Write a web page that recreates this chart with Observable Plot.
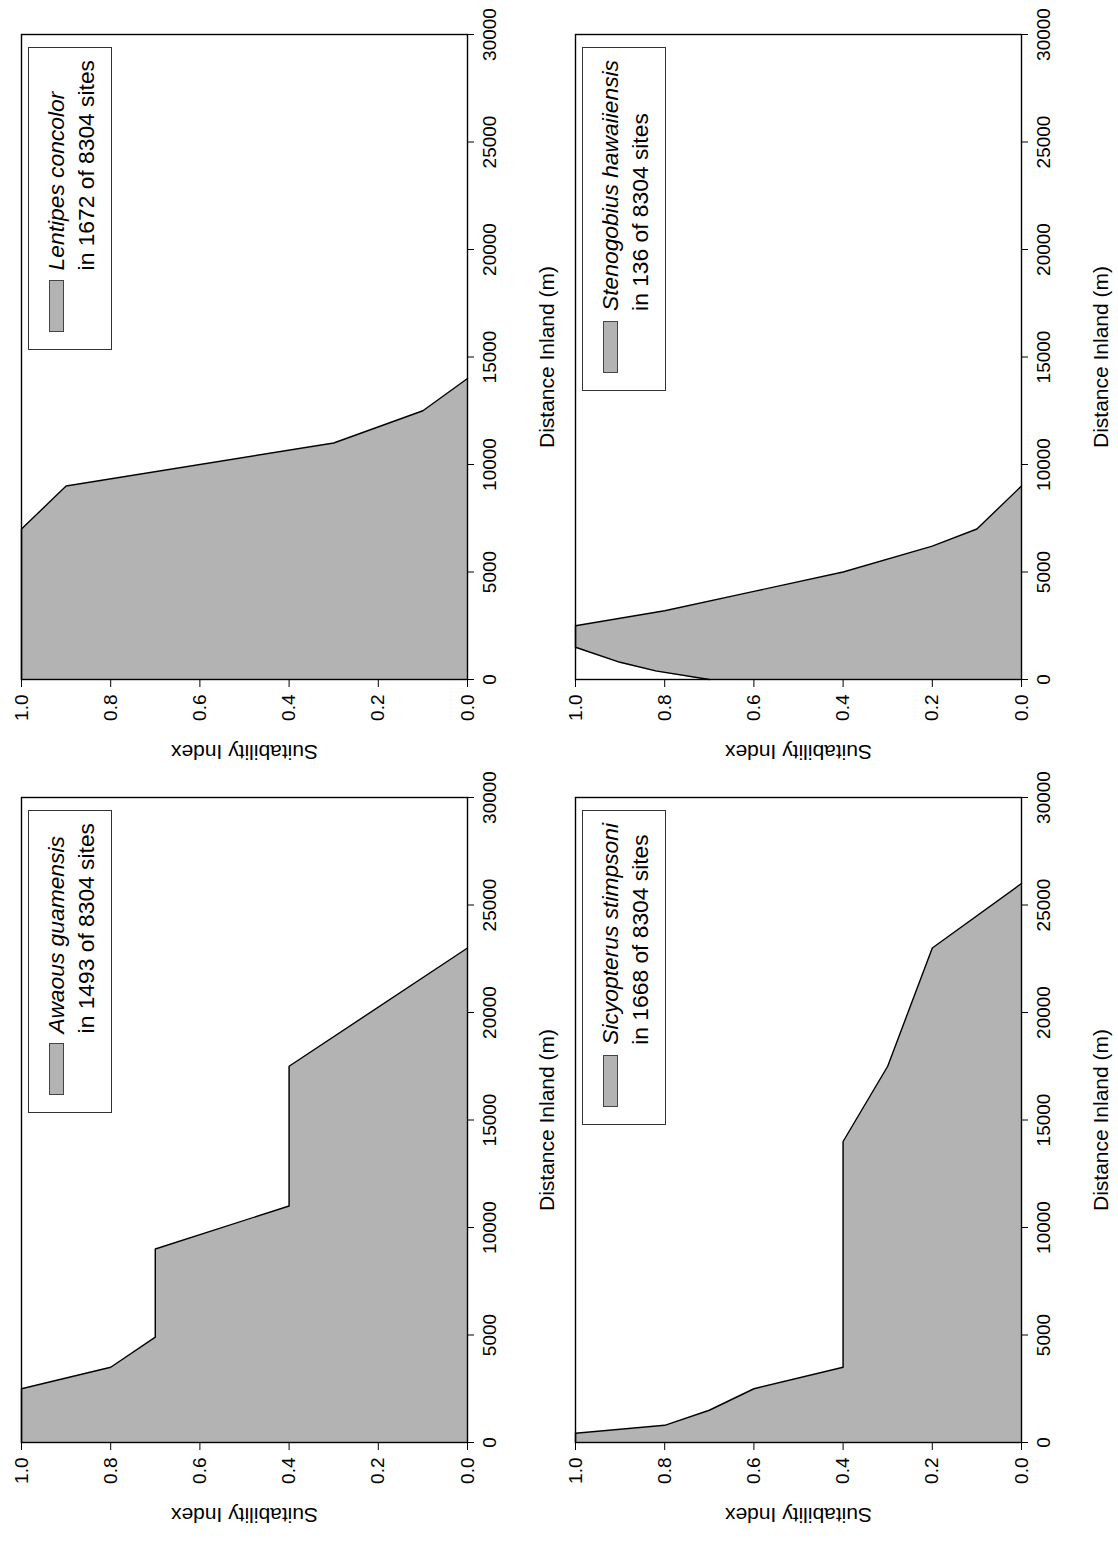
<!DOCTYPE html>
<html>
<head>
<meta charset="utf-8">
<script src="https://cdn.jsdelivr.net/npm/d3@7"></script>
<script src="https://cdn.jsdelivr.net/npm/@observablehq/plot@0.6"></script>
<style>
  html, body { margin: 0; padding: 0; background: #fff; width: 1118px; height: 1543px; overflow: hidden; }
  #page {
    position: absolute; left: 0; top: 0; width: 1543px; height: 1118px;
    transform-origin: 0 0; transform: translate(0px, 1543px) rotate(-90deg);
    font-family: "Liberation Sans", Arial, Helvetica, sans-serif; color: #000; background: #fff;
  }
  .panel { position: absolute; }
  .panel svg { overflow: visible; }
  #page g[aria-label="x-axis label"] text, #page g[aria-label="y-axis label"] text { font-size: 21px; }
  .legend {
    position: absolute; background: #fff; border: 1px solid #333; box-sizing: border-box;
    padding: 12px 12px 10px 17px; display: flex; align-items: flex-start;
    font-size: 22.8px; line-height: 30px; color: #000; white-space: nowrap;
  }
  .legend .swatch { width: 50px; height: 13px; background: #b3b3b3; border: 1px solid #444; margin-top: 8px; margin-right: 10px; flex: none; }
  .legend .name { font-style: italic; }
</style>
</head>
<body>
<div id="page"></div>
<script>
// ---- data ----
const species = ["Awaous guamensis", "Lentipes concolor", "Sicyopterus stimpsoni", "Stenogobius hawaiiensis"];
const siteCounts = [1493, 1672, 1668, 136];
const totalSites = 8304;

const awaousDistance = [0, 2500, 3500, 4900, 9000, 11000, 17500, 23000];
const awaousSuitability = [1.0, 1.0, 0.8, 0.7, 0.7, 0.4, 0.4, 0.0];

const lentipesDistance = [0, 7000, 9000, 11000, 12500, 14000];
const lentipesSuitability = [1.0, 1.0, 0.9, 0.3, 0.1, 0.0];

const sicyopterusDistance = [0, 430, 800, 1500, 2500, 3500, 14000, 17500, 23000, 26000];
const sicyopterusSuitability = [1.0, 1.0, 0.8, 0.7, 0.6, 0.4, 0.4, 0.3, 0.2, 0.0];

const stenogobiusDistance = [0, 400, 800, 1500, 2500, 3200, 4100, 5000, 6200, 7000, 9000];
const stenogobiusSuitability = [0.7, 0.82, 0.9, 1.0, 1.0, 0.8, 0.6, 0.4, 0.2, 0.1, 0.0];

const distanceTicks = [0, 5000, 10000, 15000, 20000, 25000, 30000];
const suitabilityTicks = [0.0, 0.2, 0.4, 0.6, 0.8, 1.0];
const xLabel = "Distance Inland (m)";
const yLabel = "Suitability Index";

// ---- layout (unrotated landscape page, rotated as a whole afterwards) ----
const panels = [
  {i: 0, dist: awaousDistance, suit: awaousSuitability, col: 0, row: 0},
  {i: 1, dist: lentipesDistance, suit: lentipesSuitability, col: 1, row: 0},
  {i: 2, dist: sicyopterusDistance, suit: sicyopterusSuitability, col: 0, row: 1},
  {i: 3, dist: stenogobiusDistance, suit: stenogobiusSuitability, col: 1, row: 1}
];
const W = 760, H = 567, mL = 100, mR = 15, mT = 21, mB = 100;
const colLeft = [0, 763], rowTop = [0, 554];
const page = document.getElementById("page");

for (const p of panels) {
  const data = p.dist.map((d, k) => ({d, s: p.suit[k]}));
  const chart = Plot.plot({
    width: W, height: H,
    marginLeft: mL, marginRight: mR, marginTop: mT, marginBottom: mB,
    style: {fontFamily: '"Liberation Sans", Arial, Helvetica, sans-serif', fontSize: "19px", color: "#000", background: "transparent"},
    x: {domain: [0, 30000]},
    y: {domain: [0, 1]},
    marks: [
      Plot.areaY(data, {x: "d", y: "s", fill: "#b3b3b3"}),
      Plot.lineY(data, {x: "d", y: "s", stroke: "#000", strokeWidth: 1.4}),
      Plot.frame({stroke: "#000", strokeWidth: 1.4}),
      Plot.axisX({ticks: distanceTicks, tickFormat: d3.format("d"), tickSize: 7, tickPadding: 8,
        label: xLabel, labelAnchor: "center", labelArrow: "none", labelOffset: 86}),
      Plot.axisY({ticks: suitabilityTicks, tickFormat: d3.format(".1f"), tickSize: 7, tickPadding: 8,
        label: yLabel, labelAnchor: "center", labelArrow: "none", labelOffset: 80})
    ]
  });
  const wrap = document.createElement("div");
  wrap.className = "panel";
  wrap.style.left = colLeft[p.col] + "px";
  wrap.style.top = rowTop[p.row] + "px";
  wrap.appendChild(chart);
  page.appendChild(wrap);

  // legend (top-right inside the plot frame)
  const lg = document.createElement("div");
  lg.className = "legend";
  const plotRight = colLeft[p.col] + W - mR;
  lg.style.right = (1543 - plotRight + 12) + "px";
  lg.style.top = (rowTop[p.row] + mT + 7) + "px";
  lg.innerHTML = `<div class="swatch"></div><div><div class="name">${species[p.i]}</div><div>in ${siteCounts[p.i]} of ${totalSites} sites</div></div>`;
  page.appendChild(lg);
}
</script>
</body>
</html>
